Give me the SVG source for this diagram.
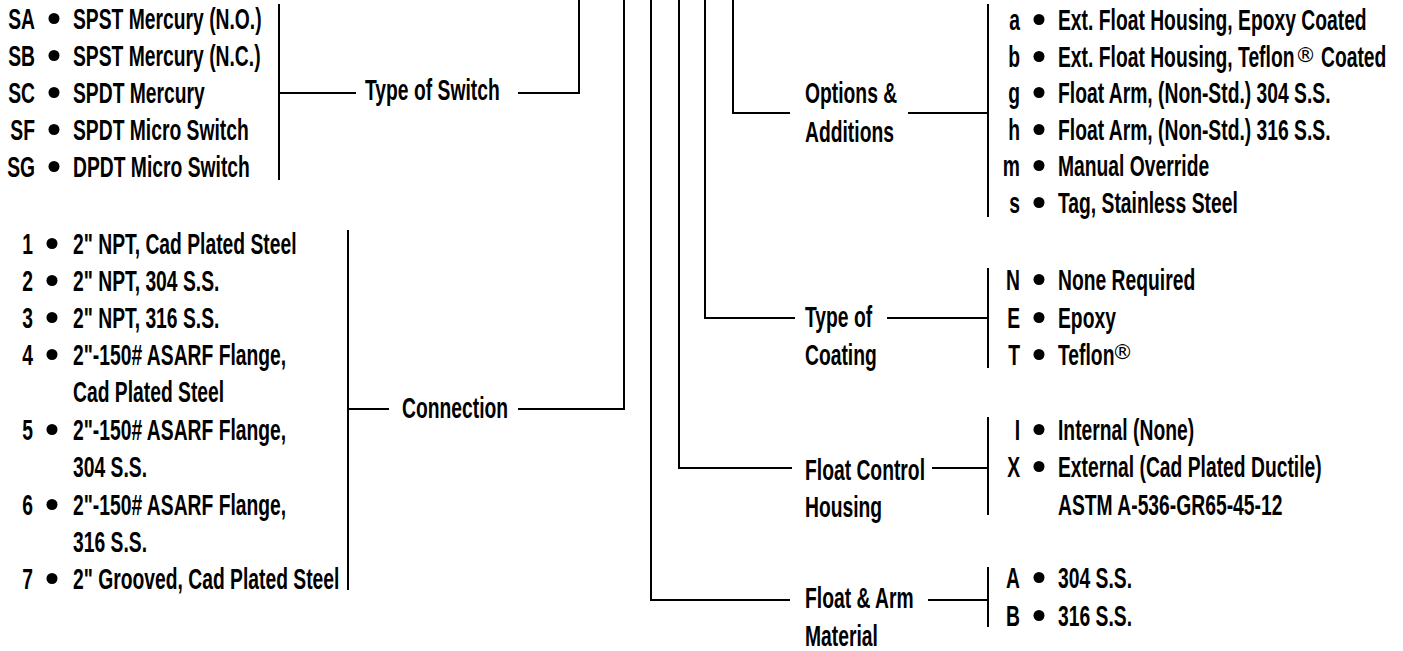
<svg xmlns="http://www.w3.org/2000/svg" width="1403" height="651" viewBox="0 0 1403 651">
<style>
text{font-family:"Liberation Sans",Arial,sans-serif;font-weight:bold;font-size:30px;fill:#000}
.k{text-anchor:end}
.reg{font-family:"DejaVu Sans","Liberation Sans",sans-serif;font-size:21px;font-weight:normal}
.ln{stroke:#000;stroke-width:2;fill:none}
.dot{fill:#000}
</style>
<rect width="1403" height="651" fill="#fff"/>
<g id="connectors">
<path class="ln" d="M279 4V180M279 93H356M518 93H579V0"/>
<path class="ln" d="M348 230V590M348 409H389M518 409H624V0"/>
<path class="ln" d="M733 0V113H790M908 113H988M988 4V217"/>
<path class="ln" d="M705 0V318H795M887 318H988M988 268V368"/>
<path class="ln" d="M679 0V468H792M932 468H988M988 417V515"/>
<path class="ln" d="M651 0V600H790M928 600H988M988 567V627"/>
</g>
<g id="switch-options">
<text class="k" transform="translate(35 29) scale(0.643 1)">SA</text><circle class="dot" cx="54" cy="18.5" r="5.5"/><text transform="translate(73 29) scale(0.643 1)">SPST Mercury (N.O.)</text>
<text class="k" transform="translate(35 66) scale(0.643 1)">SB</text><circle class="dot" cx="54" cy="55.5" r="5.5"/><text transform="translate(73 66) scale(0.643 1)">SPST Mercury (N.C.)</text>
<text class="k" transform="translate(35 103) scale(0.643 1)">SC</text><circle class="dot" cx="54" cy="92.5" r="5.5"/><text transform="translate(73 103) scale(0.643 1)">SPDT Mercury</text>
<text class="k" transform="translate(35 140) scale(0.643 1)">SF</text><circle class="dot" cx="54" cy="129.5" r="5.5"/><text transform="translate(73 140) scale(0.643 1)">SPDT Micro Switch</text>
<text class="k" transform="translate(35 177) scale(0.643 1)">SG</text><circle class="dot" cx="54" cy="166.5" r="5.5"/><text transform="translate(73 177) scale(0.643 1)">DPDT Micro Switch</text>
</g>
<g id="type-of-switch"><text transform="translate(365 100) scale(0.643 1)">Type of Switch</text></g>
<g id="connection-options">
<text class="k" transform="translate(33 254) scale(0.643 1)">1</text><circle class="dot" cx="52" cy="243.5" r="5.5"/><text transform="translate(73 254) scale(0.643 1)">2" NPT, Cad Plated Steel</text>
<text class="k" transform="translate(33 291) scale(0.643 1)">2</text><circle class="dot" cx="52" cy="280.5" r="5.5"/><text transform="translate(73 291) scale(0.643 1)">2" NPT, 304 S.S.</text>
<text class="k" transform="translate(33 328) scale(0.643 1)">3</text><circle class="dot" cx="52" cy="317.5" r="5.5"/><text transform="translate(73 328) scale(0.643 1)">2" NPT, 316 S.S.</text>
<text class="k" transform="translate(33 365) scale(0.643 1)">4</text><circle class="dot" cx="52" cy="354.5" r="5.5"/><text transform="translate(73 365) scale(0.643 1)">2"-150# ASARF Flange,</text>
<text transform="translate(73 402) scale(0.643 1)">Cad Plated Steel</text>
<text class="k" transform="translate(33 440) scale(0.643 1)">5</text><circle class="dot" cx="52" cy="429.5" r="5.5"/><text transform="translate(73 440) scale(0.643 1)">2"-150# ASARF Flange,</text>
<text transform="translate(73 477) scale(0.643 1)">304 S.S.</text>
<text class="k" transform="translate(33 515) scale(0.643 1)">6</text><circle class="dot" cx="52" cy="504.5" r="5.5"/><text transform="translate(73 515) scale(0.643 1)">2"-150# ASARF Flange,</text>
<text transform="translate(73 552) scale(0.643 1)">316 S.S.</text>
<text class="k" transform="translate(33 589) scale(0.643 1)">7</text><circle class="dot" cx="52" cy="578.5" r="5.5"/><text transform="translate(73 589) scale(0.643 1)">2" Grooved, Cad Plated Steel</text>
</g>
<g id="connection"><text transform="translate(402 418) scale(0.643 1)">Connection</text></g>
<g id="options-additions">
<text transform="translate(805 103) scale(0.643 1)">Options &amp;</text>
<text transform="translate(805 142) scale(0.643 1)">Additions</text>
</g>
<g id="options-list">
<text class="k" transform="translate(1020 30) scale(0.643 1)">a</text><circle class="dot" cx="1039" cy="19.5" r="5.5"/><text transform="translate(1058 30) scale(0.643 1)">Ext. Float Housing, Epoxy Coated</text>
<text class="k" transform="translate(1020 67) scale(0.643 1)">b</text><circle class="dot" cx="1039" cy="56.5" r="5.5"/><text transform="translate(1058 67) scale(0.643 1)">Ext. Float Housing, Teflon</text><text class="reg" x="1295" y="62">®</text><text transform="translate(1321 67) scale(0.643 1)">Coated</text>
<text class="k" transform="translate(1020 103) scale(0.643 1)">g</text><circle class="dot" cx="1039" cy="92.5" r="5.5"/><text transform="translate(1058 103) scale(0.643 1)">Float Arm, (Non-Std.) 304 S.S.</text>
<text class="k" transform="translate(1020 140) scale(0.643 1)">h</text><circle class="dot" cx="1039" cy="129.5" r="5.5"/><text transform="translate(1058 140) scale(0.643 1)">Float Arm, (Non-Std.) 316 S.S.</text>
<text class="k" transform="translate(1020 176) scale(0.643 1)">m</text><circle class="dot" cx="1039" cy="165.5" r="5.5"/><text transform="translate(1058 176) scale(0.643 1)">Manual Override</text>
<text class="k" transform="translate(1020 213) scale(0.643 1)">s</text><circle class="dot" cx="1039" cy="202.5" r="5.5"/><text transform="translate(1058 213) scale(0.643 1)">Tag, Stainless Steel</text>
</g>
<g id="type-of-coating">
<text transform="translate(805 327) scale(0.643 1)">Type of</text>
<text transform="translate(805 365) scale(0.643 1)">Coating</text>
</g>
<g id="coating-list">
<text class="k" transform="translate(1020 290) scale(0.643 1)">N</text><circle class="dot" cx="1039" cy="279.5" r="5.5"/><text transform="translate(1058 290) scale(0.643 1)">None Required</text>
<text class="k" transform="translate(1020 328) scale(0.643 1)">E</text><circle class="dot" cx="1039" cy="317.5" r="5.5"/><text transform="translate(1058 328) scale(0.643 1)">Epoxy</text>
<text class="k" transform="translate(1020 365) scale(0.643 1)">T</text><circle class="dot" cx="1039" cy="354.5" r="5.5"/><text transform="translate(1058 365) scale(0.643 1)">Teflon</text><text class="reg" x="1112" y="359">®</text>
</g>
<g id="float-control-housing">
<text transform="translate(805 480) scale(0.643 1)">Float Control</text>
<text transform="translate(805 517) scale(0.643 1)">Housing</text>
</g>
<g id="housing-list">
<text class="k" transform="translate(1020 440) scale(0.643 1)">I</text><circle class="dot" cx="1039" cy="429.5" r="5.5"/><text transform="translate(1058 440) scale(0.643 1)">Internal (None)</text>
<text class="k" transform="translate(1020 477) scale(0.643 1)">X</text><circle class="dot" cx="1039" cy="466.5" r="5.5"/><text transform="translate(1058 477) scale(0.643 1)">External (Cad Plated Ductile)</text>
<text transform="translate(1058 515) scale(0.643 1)">ASTM A-536-GR65-45-12</text>
</g>
<g id="float-arm-material">
<text transform="translate(805 608) scale(0.643 1)">Float &amp; Arm</text>
<text transform="translate(805 646) scale(0.643 1)">Material</text>
</g>
<g id="material-list">
<text class="k" transform="translate(1020 588) scale(0.643 1)">A</text><circle class="dot" cx="1039" cy="577.5" r="5.5"/><text transform="translate(1058 588) scale(0.643 1)">304 S.S.</text>
<text class="k" transform="translate(1020 626) scale(0.643 1)">B</text><circle class="dot" cx="1039" cy="615.5" r="5.5"/><text transform="translate(1058 626) scale(0.643 1)">316 S.S.</text>
</g>
</svg>
